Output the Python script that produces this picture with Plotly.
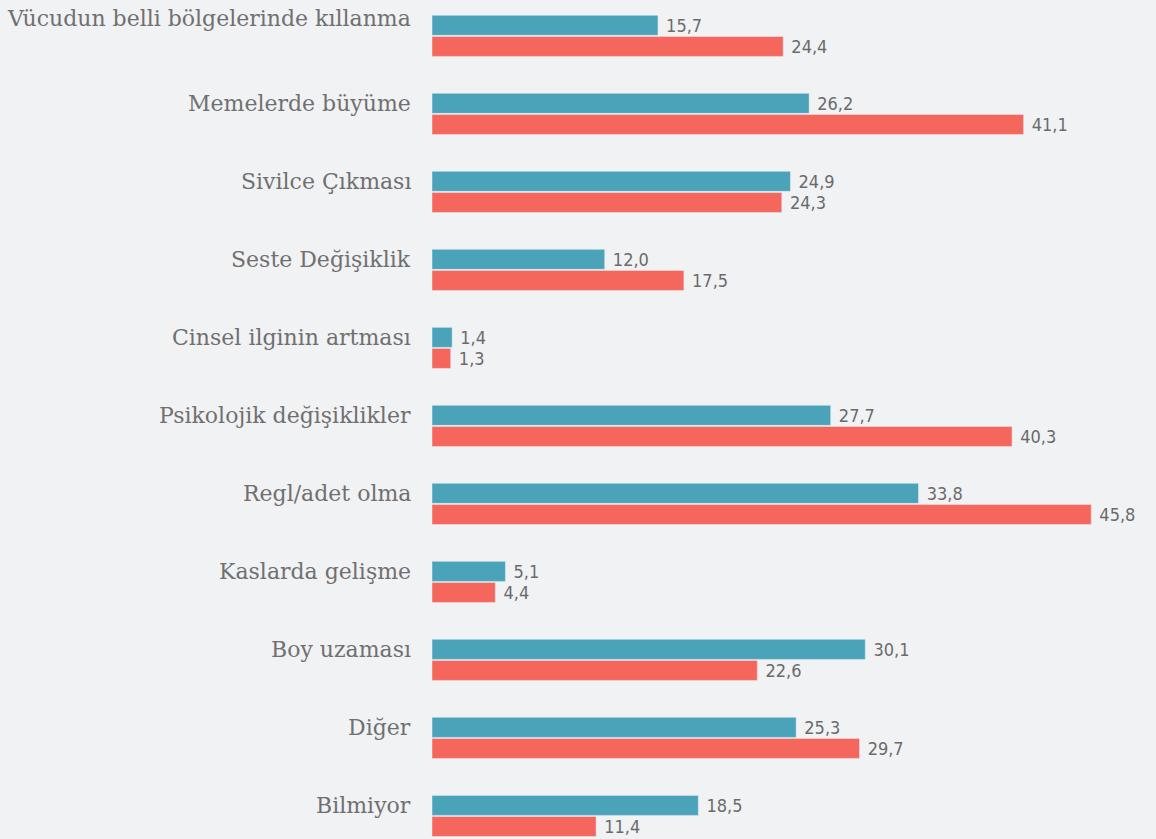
import plotly.graph_objects as go

categories = [
    "Vücudun belli bölgelerinde kıllanma",
    "Memelerde büyüme",
    "Sivilce Çıkması",
    "Seste Değişiklik",
    "Cinsel ilginin artması",
    "Psikolojik değişiklikler",
    "Regl/adet olma",
    "Kaslarda gelişme",
    "Boy uzaması",
    "Diğer",
    "Bilmiyor",
]
teal_values = [15.7, 26.2, 24.9, 12.0, 1.4, 27.7, 33.8, 5.1, 30.1, 25.3, 18.5]
red_values = [24.4, 41.1, 24.3, 17.5, 1.3, 40.3, 45.8, 4.4, 22.6, 29.7, 11.4]

TEAL = "#4aa3b9"
RED = "#f5675c"
BG = "#f1f2f4"
TXT = "#6b6b6b"


def fmt(v):
    return f"{v:.1f}".replace(".", ",")


fig = go.Figure()
for vals, col in [(teal_values, TEAL), (red_values, RED)]:
    fig.add_trace(go.Bar(
        y=categories,
        x=vals,
        orientation="h",
        marker_color=col,
        text=[" " + fmt(v) for v in vals],
        textposition="outside",
        constraintext="none",
        textfont=dict(family="DejaVu Sans Condensed, DejaVu Sans", size=18, color=TXT),
        cliponaxis=False,
        hoverinfo="skip",
    ))

# category labels, lined up with the teal bar (first one sits a little higher)
for i, c in enumerate(categories):
    fig.add_annotation(
        x=0, y=c, xref="x", yref="y",
        text=c, showarrow=False,
        xanchor="right", yanchor="middle",
        xshift=-19, yshift=17 if i == 0 else 10,
        font=dict(family="DejaVu Serif", size=22, color="#707070"),
    )

fig.update_layout(
    width=1156, height=839,
    paper_bgcolor=BG, plot_bgcolor=BG,
    margin=dict(l=432, r=0, t=0, b=0),
    barmode="group",
    bargap=0.46,
    bargroupgap=0.05,
    showlegend=False,
    xaxis=dict(range=[0, 50.3], visible=False, fixedrange=True),
    yaxis=dict(
        type="category",
        range=[10.296, -0.46],
        showticklabels=False,
        showgrid=False, zeroline=False,
        fixedrange=True,
    ),
)

fig.write_html(
    "out.html",
    config={"displayModeBar": False},
    post_script="document.body.style.margin='0';document.body.style.background='%s';" % BG,
)
